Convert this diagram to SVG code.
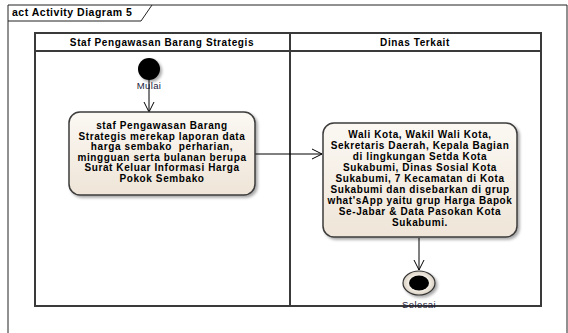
<svg xmlns="http://www.w3.org/2000/svg" width="568" height="333" viewBox="0 0 568 333">
<defs>
<linearGradient id="actFill" x1="0" y1="0" x2="0" y2="1">
<stop offset="0" stop-color="#fbf8f3"/>
<stop offset="1" stop-color="#efe5d8"/>
</linearGradient>
<radialGradient id="endFill" cx="0.5" cy="0.5" r="0.5">
<stop offset="0.6" stop-color="#f6f1e8"/>
<stop offset="1" stop-color="#d8cfc2"/>
</radialGradient>
<filter id="shadow" x="-10%" y="-10%" width="130%" height="130%">
<feGaussianBlur in="SourceAlpha" stdDeviation="1.5"/>
<feOffset dx="2" dy="2"/>
<feComponentTransfer><feFuncA type="linear" slope="0.35"/></feComponentTransfer>
<feMerge><feMergeNode/><feMergeNode in="SourceGraphic"/></feMerge>
</filter>
<marker id="open" viewBox="0 0 12 12" refX="11" refY="6" markerWidth="12" markerHeight="12" markerUnits="userSpaceOnUse" orient="auto">
<path d="M1,1 L11,6 L1,11" fill="none" stroke="#000" stroke-width="1"/>
</marker>
<style>
.frame{fill:none;stroke:#222;stroke-width:1}
.lane{fill:none;stroke:#3a3a3a;stroke-width:2}
.act{fill:url(#actFill);stroke:#3c3c3c;stroke-width:1.5}
.t{font-family:"Liberation Sans",Arial,sans-serif;font-size:10px;font-weight:bold;fill:#000;text-anchor:middle;letter-spacing:0.6px}
.lbl{font-family:"Liberation Sans",Arial,sans-serif;font-size:9.5px;fill:#1a1a3a;text-anchor:middle;letter-spacing:0.4px}
.conn{fill:none;stroke:#000;stroke-width:1}
</style>
</defs>
<rect x="0" y="0" width="568" height="333" fill="#fff"/>
<g id="frame">
<path class="frame" d="M8,333 L8,5 L567,5 L567,333"/>
<path class="frame" d="M8,21 L141,21 L152,5"/>
<text x="12" y="16" font-family="Liberation Sans, Arial, sans-serif" font-size="10.5" font-weight="bold" letter-spacing="0.5">act Activity Diagram 5</text>
</g>
<g id="lanes">
<rect class="lane" x="35" y="33" width="506" height="273" fill="none"/>
<line class="lane" x1="35" y1="51" x2="541" y2="51"/>
<line class="lane" x1="290" y1="33" x2="290" y2="306"/>
<text class="t" x="162" y="46">Staf Pengawasan Barang Strategis</text>
<text class="t" x="415" y="46">Dinas Terkait</text>
</g>
<g id="connectors">
<line class="conn" x1="149" y1="72" x2="149" y2="112" marker-end="url(#open)"/>
<line class="conn" x1="255" y1="154" x2="322" y2="154" marker-end="url(#open)"/>
<line class="conn" x1="419" y1="238" x2="419" y2="270" marker-end="url(#open)"/>
</g>
<g id="start">
<circle cx="149" cy="69" r="11" fill="#000" filter="url(#shadow)"/>
<text class="lbl" x="149" y="89">Mulai</text>
</g>
<g id="action1">
<rect class="act" x="69" y="112" width="186" height="83" rx="11" filter="url(#shadow)"/>
<text class="t" x="162" y="129">staf Pengawasan Barang</text>
<text class="t" x="162" y="140">Strategis merekap laporan data</text>
<text class="t" x="162" y="150" xml:space="preserve">harga sembako  perharian,</text>
<text class="t" x="162" y="161">mingguan serta bulanan berupa</text>
<text class="t" x="162" y="171">Surat Keluar Informasi Harga</text>
<text class="t" x="162" y="182">Pokok Sembako</text>
</g>
<g id="action2">
<rect class="act" x="323" y="123" width="194" height="114" rx="11" filter="url(#shadow)"/>
<text class="t" x="420" y="138">Wali Kota, Wakil Wali Kota,</text>
<text class="t" x="420" y="149">Sekretaris Daerah, Kepala Bagian</text>
<text class="t" x="420" y="160">di lingkungan Setda Kota</text>
<text class="t" x="420" y="171">Sukabumi, Dinas Sosial Kota</text>
<text class="t" x="420" y="182">Sukabumi, 7 Kecamatan di Kota</text>
<text class="t" x="420" y="193">Sukabumi dan disebarkan di grup</text>
<text class="t" x="420" y="204">what'sApp yaitu grup Harga Bapok</text>
<text class="t" x="420" y="215">Se-Jabar &amp; Data Pasokan Kota</text>
<text class="t" x="420" y="226">Sukabumi.</text>
</g>
<g id="end">
<ellipse cx="419" cy="283" rx="16" ry="12" fill="url(#endFill)" stroke="#333" stroke-width="1.2" filter="url(#shadow)"/>
<ellipse cx="419" cy="283" rx="10" ry="7.5" fill="#000"/>
<text class="lbl" x="419" y="308">Selesai</text>
</g>
</svg>
